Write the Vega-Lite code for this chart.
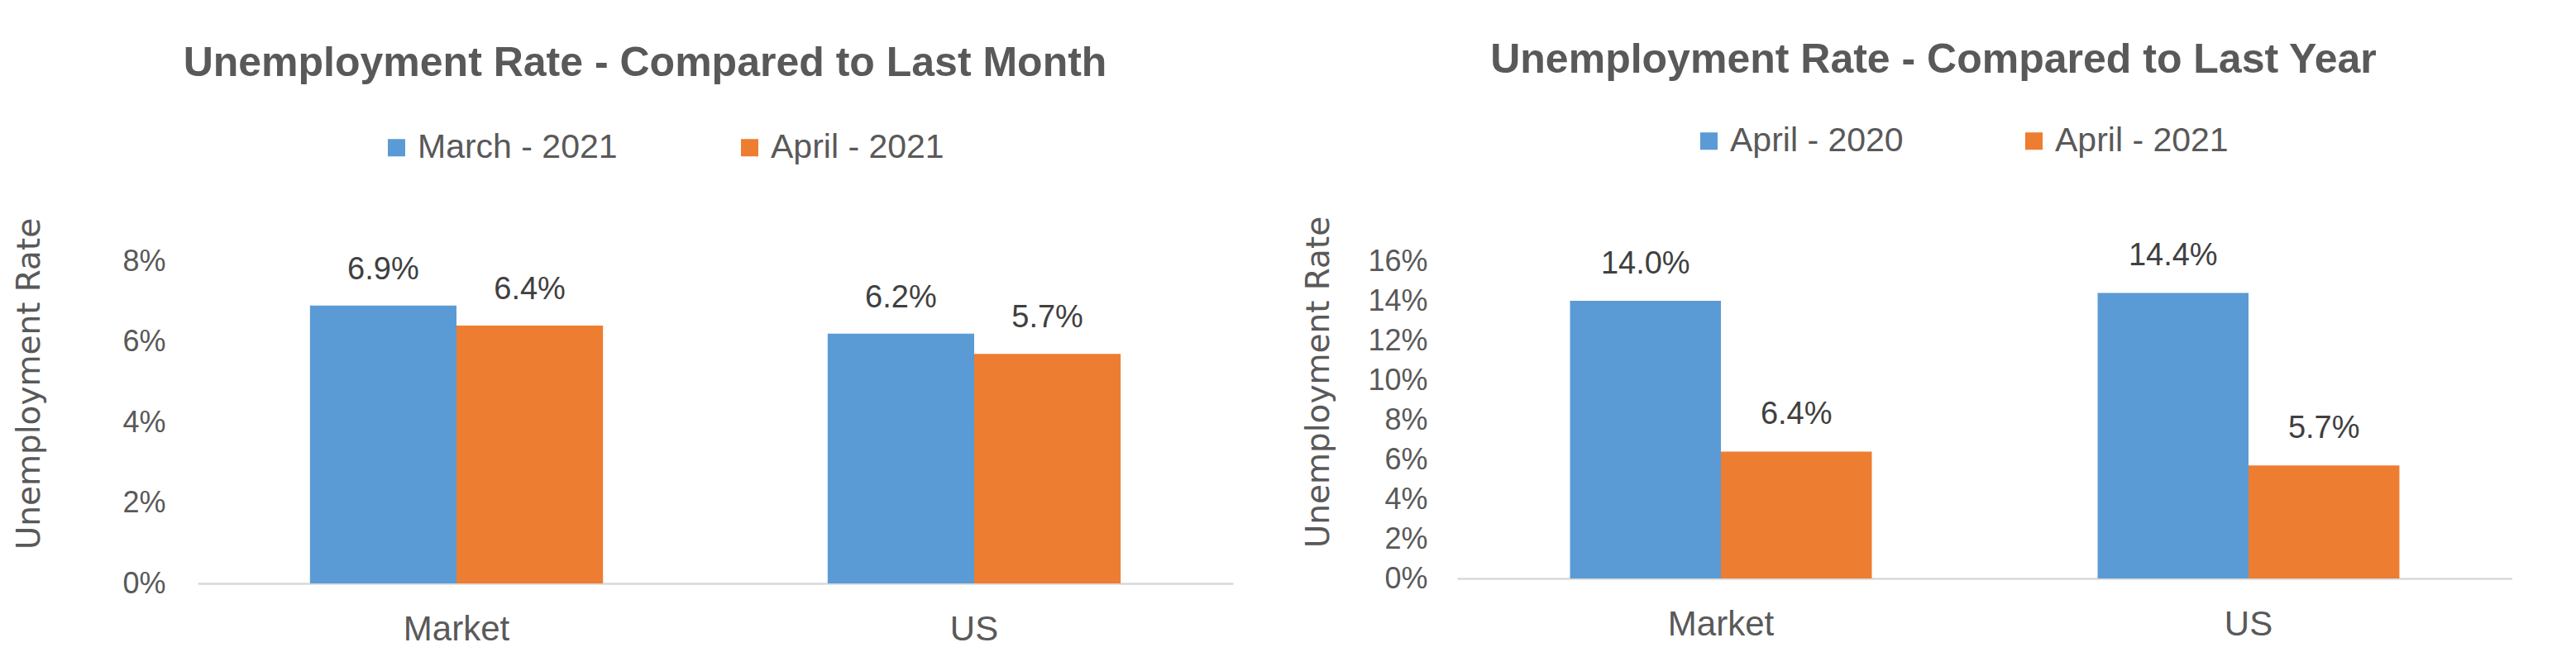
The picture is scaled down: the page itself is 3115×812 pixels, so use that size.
{
  "$schema": "https://vega.github.io/schema/vega-lite/v6.json",
  "background": "white",
  "padding": {"left": 15, "top": 48, "right": 0, "bottom": 0},
  "spacing": 83,
  "config": {
    "view": {"stroke": null},
    "font": "Liberation Sans",
    "axis": {"grid": false, "ticks": false, "labelColor": "#595959", "titleColor": "#595959", "labelFont": "Liberation Sans"}
  },
  "resolve": {"scale": {"color": "independent", "x": "independent", "y": "independent", "xOffset": "independent"}, "legend": {"color": "independent"}},
  "hconcat": [
    {
      "width": 1252,
      "height": 390,
      "title": {"text": "Unemployment Rate - Compared to Last Month", "anchor": "middle", "frame": "group", "dx": -85, "offset": 56, "fontSize": 50, "fontWeight": "bold", "color": "#595959", "font": "Liberation Sans"},
      "data": {"values": [
        {"region": "Market", "period": "March - 2021", "rate": 0.069},
        {"region": "Market", "period": "April - 2021", "rate": 0.064},
        {"region": "US", "period": "March - 2021", "rate": 0.062},
        {"region": "US", "period": "April - 2021", "rate": 0.057}
      ]},
      "encoding": {
        "x": {"field": "region", "type": "nominal", "sort": ["Market", "US"], "scale": {"paddingInner": 0.434, "paddingOuter": 0.217},
              "axis": {"title": null, "labelAngle": 0, "domain": true, "domainColor": "#D9D9D9", "domainWidth": 2.5, "labelFontSize": 42, "labelPadding": 35, "labelColor": "#595959"}},
        "xOffset": {"field": "period", "type": "nominal", "sort": ["March - 2021", "April - 2021"]},
        "y": {"field": "rate", "type": "quantitative", "scale": {"domain": [0, 0.08]},
              "axis": {"values": [0, 0.02, 0.04, 0.06, 0.08], "format": ".0%", "domain": false, "labelFontSize": 36, "labelPadding": 39, "labelOverlap": false, "labelBound": false,
                       "title": "Unemployment Rate", "titleFont": "DejaVu Sans", "titleFontSize": 39, "titleFontWeight": "normal", "titleX": -204, "titleY": 148, "titleAlign": "center", "titleBaseline": "middle"}}
      },
      "layer": [
        {"mark": {"type": "bar"},
         "encoding": {"color": {"field": "period", "type": "nominal", "sort": ["March - 2021", "April - 2021"], "scale": {"range": ["#5B9BD5", "#ED7D31"]},
           "legend": {"orient": "none", "legendX": 220, "legendY": -158, "direction": "horizontal", "title": null, "symbolType": "square", "symbolSize": 441, "symbolStrokeWidth": 0, "symbolOpacity": 1, "labelFontSize": 41, "labelLimit": 600, "labelColor": "#595959", "labelFont": "Liberation Sans", "columnPadding": 139, "labelOffset": 5}}}},
        {"mark": {"type": "text", "dy": -32, "baseline": "alphabetic", "fontSize": 38, "color": "#404040", "font": "Liberation Sans"},
         "encoding": {"text": {"field": "rate", "type": "quantitative", "format": ".1%"}}}
      ]
    },
    {
      "width": 1276,
      "height": 384,
      "title": {"text": "Unemployment Rate - Compared to Last Year", "anchor": "middle", "frame": "group", "dx": -62, "offset": 52, "fontSize": 50, "fontWeight": "bold", "color": "#595959", "font": "Liberation Sans"},
      "data": {"values": [
        {"region": "Market", "period": "April - 2020", "rate": 0.140},
        {"region": "Market", "period": "April - 2021", "rate": 0.064},
        {"region": "US", "period": "April - 2020", "rate": 0.144},
        {"region": "US", "period": "April - 2021", "rate": 0.057}
      ]},
      "encoding": {
        "x": {"field": "region", "type": "nominal", "sort": ["Market", "US"], "scale": {"paddingInner": 0.428, "paddingOuter": 0.214},
              "axis": {"title": null, "labelAngle": 0, "domain": true, "domainColor": "#D9D9D9", "domainWidth": 2.5, "labelFontSize": 42, "labelPadding": 35, "labelColor": "#595959"}},
        "xOffset": {"field": "period", "type": "nominal", "sort": ["April - 2020", "April - 2021"]},
        "y": {"field": "rate", "type": "quantitative", "scale": {"domain": [0, 0.16]},
              "axis": {"values": [0, 0.02, 0.04, 0.06, 0.08, 0.10, 0.12, 0.14, 0.16], "format": ".0%", "domain": false, "labelFontSize": 36, "labelPadding": 36, "labelOverlap": false, "labelBound": false,
                       "title": "Unemployment Rate", "titleFont": "DejaVu Sans", "titleFontSize": 39, "titleFontWeight": "normal", "titleX": -168, "titleY": 146, "titleAlign": "center", "titleBaseline": "middle"}}
      },
      "layer": [
        {"mark": {"type": "bar"},
         "encoding": {"color": {"field": "period", "type": "nominal", "sort": ["April - 2020", "April - 2021"], "scale": {"range": ["#5B9BD5", "#ED7D31"]},
           "legend": {"orient": "none", "legendX": 284, "legendY": -166, "direction": "horizontal", "title": null, "symbolType": "square", "symbolSize": 441, "symbolStrokeWidth": 0, "symbolOpacity": 1, "labelFontSize": 41, "labelLimit": 600, "labelColor": "#595959", "labelFont": "Liberation Sans", "columnPadding": 137, "labelOffset": 5}}}},
        {"mark": {"type": "text", "dy": -33, "baseline": "alphabetic", "fontSize": 38, "color": "#404040", "font": "Liberation Sans"},
         "encoding": {"text": {"field": "rate", "type": "quantitative", "format": ".1%"}}}
      ]
    }
  ]
}
